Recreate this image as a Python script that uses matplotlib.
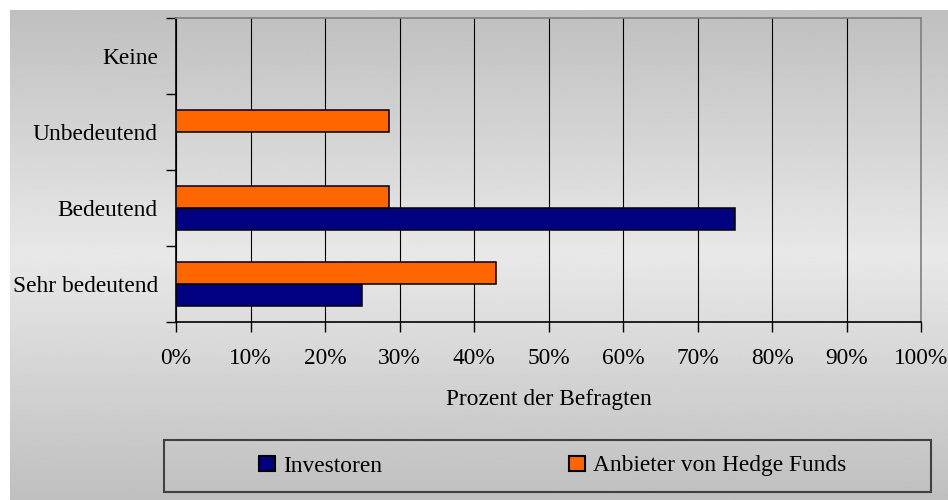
import numpy as np
import matplotlib
matplotlib.use("Agg")
import matplotlib.pyplot as plt
from matplotlib.patches import Rectangle, Patch

plt.rcParams['font.family'] = ['Liberation Serif', 'DejaVu Serif']

# data (bottom to top)
categories = ["Sehr bedeutend", "Bedeutend", "Unbedeutend", "Keine"]
investoren = [25.0, 75.0, 0.0, 0.0]
anbieter = [42.9, 28.6, 28.6, 0.0]
xticks = [0, 10, 20, 30, 40, 50, 60, 70, 80, 90, 100]
xlabel = "Prozent der Befragten"
series_names = ["Investoren", "Anbieter von Hedge Funds"]

W, H = 948, 500
fs = 16.8
fig = plt.figure(figsize=(W / 100, H / 100), dpi=100)
fig.patch.set_facecolor("white")

# gray gradient background
bg = fig.add_axes([10 / W, 0, (W - 10) / W, (H - 10) / H], zorder=-5)
rows = np.linspace(0, 1, 300)
shade = np.interp(rows, [0.0, 0.5, 1.0], [0.75, 0.91, 0.75])
bg.imshow(shade[:, None], cmap="gray", vmin=0, vmax=1, aspect="auto",
          extent=[0, 1, 0, 1], origin="upper")
bg.set_axis_off()

ax = fig.add_axes([176 / W, 1 - 322 / H, (921 - 176) / W, (322 - 18) / H])
ax.patch.set_alpha(0)

y = np.arange(len(categories))
h = 0.29
ax.barh(y - 0.145, investoren, height=h, color="#000080", edgecolor="black",
        linewidth=1.1, zorder=3)
ax.barh(y + 0.145, anbieter, height=h, color="#FF6600", edgecolor="black",
        linewidth=1.1, zorder=3)

ax.set_xlim(0, 100)
ax.set_ylim(-0.5, len(categories) - 0.5)
ax.set_xticks(xticks)
ax.set_xticklabels([f"{v}%" for v in xticks], fontsize=fs)
ax.xaxis.grid(True, color="black", linewidth=0.8, zorder=1)

ax.set_yticks(np.arange(-0.5, len(categories), 1.0))
ax.set_yticklabels([])
ax.set_yticks(y, minor=True)
ax.set_yticklabels(categories, minor=True, fontsize=fs)
ax.tick_params(axis="y", which="minor", length=0, pad=13)
ax.tick_params(axis="y", which="major", length=7, width=1, direction="out")
ax.tick_params(axis="x", length=7, width=1, direction="out", pad=12)

for s in ["top", "right"]:
    ax.spines[s].set_color("#808080")
    ax.spines[s].set_linewidth(1.2)
for s in ["left", "bottom"]:
    ax.spines[s].set_color("black")
    ax.spines[s].set_linewidth(1.2)

ax.set_xlabel(xlabel, fontsize=fs, labelpad=14)

# legend box
fig.patches.append(Rectangle((164 / W, 1 - 492 / H), (931 - 164) / W, 52 / H,
                             transform=fig.transFigure, facecolor="none",
                             edgecolor="#404040", linewidth=1.5))
handles = [Patch(facecolor="#000080", edgecolor="black", linewidth=1.5),
           Patch(facecolor="#FF6600", edgecolor="black", linewidth=1.5)]
fig.legend(handles, series_names, loc="center", ncol=2, frameon=False,
           bbox_to_anchor=(553 / W, 1 - 466 / H), fontsize=fs,
           handlelength=0.69, handleheight=0.65, handletextpad=0.35,
           columnspacing=8.0)

fig.savefig("out.png", dpi=100)
